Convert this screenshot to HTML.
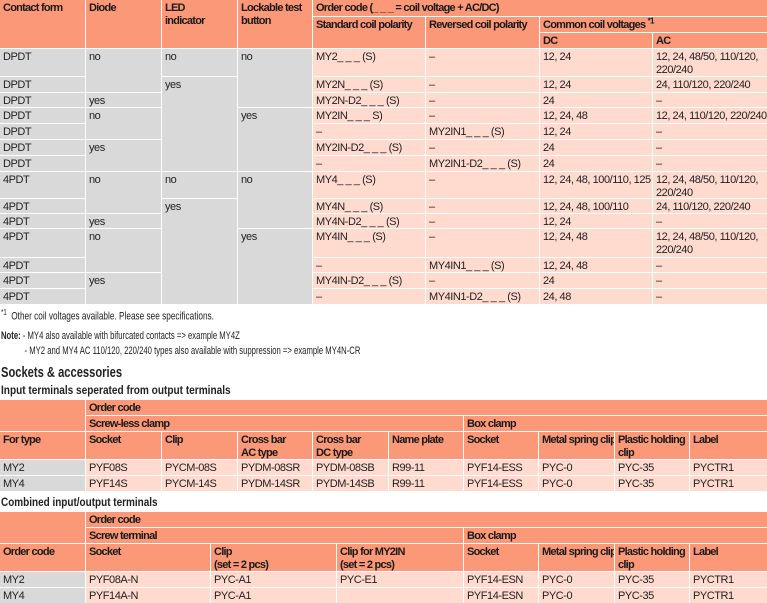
<!DOCTYPE html>
<html><head><meta charset="utf-8"><style>
body{margin:0;width:767px;height:603px;position:relative;background:#fff;font-family:"Liberation Sans Narrow","Liberation Sans",sans-serif;color:#222;overflow:hidden}
.c{position:absolute;box-sizing:border-box;padding:2px 3px;overflow:hidden;line-height:13px;font-size:11px;letter-spacing:-0.45px;white-space:nowrap}
.h{background:#FA9877;font-weight:bold;color:#1a1a1a;letter-spacing:-0.75px}
.g{background:#D9D9D9}
.p{background:#FEDBCE}
.t{position:absolute;white-space:nowrap;transform-origin:0 0}
</style></head><body>
<div class="c h" style="left:0;top:0;width:85px;height:48px">Contact form</div>
<div class="c h" style="left:86px;top:0;width:75px;height:48px">Diode</div>
<div class="c h" style="left:162px;top:0;width:75px;height:48px">LED<br>indicator</div>
<div class="c h" style="left:238px;top:0;width:74px;height:48px">Lockable test<br>button</div>
<div class="c h" style="left:313px;top:0;width:454px;height:16px">Order code (_ _ _ = coil voltage + AC/DC)</div>
<div class="c h" style="left:313px;top:17px;width:112px;height:31px">Standard coil polarity</div>
<div class="c h" style="left:426px;top:17px;width:113px;height:31px">Reversed coil polarity</div>
<div class="c h" style="left:540px;top:17px;width:227px;height:15px">Common coil voltages <sup style="font-size:8px;line-height:0">*1</sup></div>
<div class="c h" style="left:540px;top:33px;width:112px;height:15px">DC</div>
<div class="c h" style="left:653px;top:33px;width:114px;height:15px">AC</div>

<div class="c g" style="left:0;top:49px;width:85px;height:27px">DPDT</div>
<div class="c g" style="left:0;top:77px;width:85px;height:15px">DPDT</div>
<div class="c g" style="left:0;top:93px;width:85px;height:14px">DPDT</div>
<div class="c g" style="left:0;top:108px;width:85px;height:15px">DPDT</div>
<div class="c g" style="left:0;top:124px;width:85px;height:15px">DPDT</div>
<div class="c g" style="left:0;top:140px;width:85px;height:15px">DPDT</div>
<div class="c g" style="left:0;top:156px;width:85px;height:15px">DPDT</div>
<div class="c g" style="left:0;top:172px;width:85px;height:26px">4PDT</div>
<div class="c g" style="left:0;top:199px;width:85px;height:14px">4PDT</div>
<div class="c g" style="left:0;top:214px;width:85px;height:14px">4PDT</div>
<div class="c g" style="left:0;top:229px;width:85px;height:28px">4PDT</div>
<div class="c g" style="left:0;top:258px;width:85px;height:14px">4PDT</div>
<div class="c g" style="left:0;top:273px;width:85px;height:15px">4PDT</div>
<div class="c g" style="left:0;top:289px;width:85px;height:15px">4PDT</div>
<div class="c g" style="left:86px;top:49px;width:75px;height:43px">no</div>
<div class="c g" style="left:86px;top:93px;width:75px;height:14px">yes</div>
<div class="c g" style="left:86px;top:108px;width:75px;height:31px">no</div>
<div class="c g" style="left:86px;top:140px;width:75px;height:31px">yes</div>
<div class="c g" style="left:86px;top:172px;width:75px;height:41px">no</div>
<div class="c g" style="left:86px;top:214px;width:75px;height:14px">yes</div>
<div class="c g" style="left:86px;top:229px;width:75px;height:43px">no</div>
<div class="c g" style="left:86px;top:273px;width:75px;height:31px">yes</div>
<div class="c g" style="left:162px;top:49px;width:75px;height:27px">no</div>
<div class="c g" style="left:162px;top:77px;width:75px;height:94px">yes</div>
<div class="c g" style="left:162px;top:172px;width:75px;height:26px">no</div>
<div class="c g" style="left:162px;top:199px;width:75px;height:105px">yes</div>
<div class="c g" style="left:238px;top:49px;width:74px;height:58px">no</div>
<div class="c g" style="left:238px;top:108px;width:74px;height:63px">yes</div>
<div class="c g" style="left:238px;top:172px;width:74px;height:56px">no</div>
<div class="c g" style="left:238px;top:229px;width:74px;height:75px">yes</div>

<div class="c p" style="left:313px;top:49px;width:112px;height:27px">MY2_ _ _ (S)</div>
<div class="c p" style="left:313px;top:77px;width:112px;height:15px">MY2N_ _ _ (S)</div>
<div class="c p" style="left:313px;top:93px;width:112px;height:14px">MY2N-D2_ _ _ (S)</div>
<div class="c p" style="left:313px;top:108px;width:112px;height:15px">MY2IN_ _ _ S)</div>
<div class="c p" style="left:313px;top:124px;width:112px;height:15px">–</div>
<div class="c p" style="left:313px;top:140px;width:112px;height:15px">MY2IN-D2_ _ _ (S)</div>
<div class="c p" style="left:313px;top:156px;width:112px;height:15px">–</div>
<div class="c p" style="left:313px;top:172px;width:112px;height:26px">MY4_ _ _ (S)</div>
<div class="c p" style="left:313px;top:199px;width:112px;height:14px">MY4N_ _ _ (S)</div>
<div class="c p" style="left:313px;top:214px;width:112px;height:14px">MY4N-D2_ _ _ (S)</div>
<div class="c p" style="left:313px;top:229px;width:112px;height:28px">MY4IN_ _ _ (S)</div>
<div class="c p" style="left:313px;top:258px;width:112px;height:14px">–</div>
<div class="c p" style="left:313px;top:273px;width:112px;height:15px">MY4IN-D2_ _ _ (S)</div>
<div class="c p" style="left:313px;top:289px;width:112px;height:15px">–</div>
<div class="c p" style="left:426px;top:49px;width:113px;height:27px">–</div>
<div class="c p" style="left:426px;top:77px;width:113px;height:15px">–</div>
<div class="c p" style="left:426px;top:93px;width:113px;height:14px">–</div>
<div class="c p" style="left:426px;top:108px;width:113px;height:15px">–</div>
<div class="c p" style="left:426px;top:124px;width:113px;height:15px">MY2IN1_ _ _ (S)</div>
<div class="c p" style="left:426px;top:140px;width:113px;height:15px">–</div>
<div class="c p" style="left:426px;top:156px;width:113px;height:15px">MY2IN1-D2_ _ _ (S)</div>
<div class="c p" style="left:426px;top:172px;width:113px;height:26px">–</div>
<div class="c p" style="left:426px;top:199px;width:113px;height:14px">–</div>
<div class="c p" style="left:426px;top:214px;width:113px;height:14px">–</div>
<div class="c p" style="left:426px;top:229px;width:113px;height:28px">–</div>
<div class="c p" style="left:426px;top:258px;width:113px;height:14px">MY4IN1_ _ _ (S)</div>
<div class="c p" style="left:426px;top:273px;width:113px;height:15px">–</div>
<div class="c p" style="left:426px;top:289px;width:113px;height:15px">MY4IN1-D2_ _ _ (S)</div>
<div class="c p" style="left:540px;top:49px;width:112px;height:27px">12, 24</div>
<div class="c p" style="left:540px;top:77px;width:112px;height:15px">12, 24</div>
<div class="c p" style="left:540px;top:93px;width:112px;height:14px">24</div>
<div class="c p" style="left:540px;top:108px;width:112px;height:15px">12, 24, 48</div>
<div class="c p" style="left:540px;top:124px;width:112px;height:15px">12, 24</div>
<div class="c p" style="left:540px;top:140px;width:112px;height:15px">24</div>
<div class="c p" style="left:540px;top:156px;width:112px;height:15px">24</div>
<div class="c p" style="left:540px;top:172px;width:112px;height:26px">12, 24, 48, 100/110, 125</div>
<div class="c p" style="left:540px;top:199px;width:112px;height:14px">12, 24, 48, 100/110</div>
<div class="c p" style="left:540px;top:214px;width:112px;height:14px">12, 24</div>
<div class="c p" style="left:540px;top:229px;width:112px;height:28px">12, 24, 48</div>
<div class="c p" style="left:540px;top:258px;width:112px;height:14px">12, 24, 48</div>
<div class="c p" style="left:540px;top:273px;width:112px;height:15px">24</div>
<div class="c p" style="left:540px;top:289px;width:112px;height:15px">24, 48</div>
<div class="c p" style="left:653px;top:49px;width:114px;height:27px">12, 24, 48/50, 110/120,<br>220/240</div>
<div class="c p" style="left:653px;top:77px;width:114px;height:15px">24, 110/120, 220/240</div>
<div class="c p" style="left:653px;top:93px;width:114px;height:14px">–</div>
<div class="c p" style="left:653px;top:108px;width:114px;height:15px">12, 24, 110/120, 220/240</div>
<div class="c p" style="left:653px;top:124px;width:114px;height:15px">–</div>
<div class="c p" style="left:653px;top:140px;width:114px;height:15px">–</div>
<div class="c p" style="left:653px;top:156px;width:114px;height:15px">–</div>
<div class="c p" style="left:653px;top:172px;width:114px;height:26px">12, 24, 48/50, 110/120,<br>220/240</div>
<div class="c p" style="left:653px;top:199px;width:114px;height:14px">24, 110/120, 220/240</div>
<div class="c p" style="left:653px;top:214px;width:114px;height:14px">–</div>
<div class="c p" style="left:653px;top:229px;width:114px;height:28px">12, 24, 48/50, 110/120,<br>220/240</div>
<div class="c p" style="left:653px;top:258px;width:114px;height:14px">–</div>
<div class="c p" style="left:653px;top:273px;width:114px;height:15px">–</div>
<div class="c p" style="left:653px;top:289px;width:114px;height:15px">–</div>

<div class="t" style="left:1px;top:308px;font-size:11px;transform:scaleX(0.75)"><sup style="font-size:8px">*1</sup>&nbsp; Other coil voltages available. Please see specifications.</div>
<div class="t" style="left:1px;top:329px;font-size:11px;line-height:15px;transform:scaleX(0.7)"><b>Note:</b> - MY4 also available with bifurcated contacts =&gt; example MY4Z<br>&nbsp;&nbsp;&nbsp;&nbsp;&nbsp;&nbsp;&nbsp;&nbsp;&nbsp;&nbsp;&nbsp;- MY2 and MY4 AC 110/120, 220/240 types also available with suppression =&gt; example MY4N-CR</div>
<div class="t" style="left:1px;top:365px;font-size:14.5px;font-weight:bold;transform:scaleX(0.77)">Sockets &amp; accessories</div>
<div class="t" style="left:1px;top:383px;font-size:12px;font-weight:bold;transform:scaleX(0.84)">Input terminals seperated from output terminals</div>

<div class="c h" style="left:0;top:400px;width:85px;height:31px"></div>
<div class="c h" style="left:86px;top:400px;width:681px;height:15px">Order code</div>
<div class="c h" style="left:86px;top:416px;width:377px;height:15px">Screw-less clamp</div>
<div class="c h" style="left:464px;top:416px;width:303px;height:15px">Box clamp</div>
<div class="c h" style="left:0;top:432px;width:85px;height:27px">For type</div>
<div class="c h" style="left:86px;top:432px;width:75px;height:27px">Socket</div>
<div class="c h" style="left:162px;top:432px;width:75px;height:27px">Clip</div>
<div class="c h" style="left:238px;top:432px;width:74px;height:27px">Cross bar<br>AC type</div>
<div class="c h" style="left:313px;top:432px;width:75px;height:27px">Cross bar<br>DC type</div>
<div class="c h" style="left:389px;top:432px;width:74px;height:27px">Name plate</div>
<div class="c h" style="left:464px;top:432px;width:74px;height:27px">Socket</div>
<div class="c h" style="left:539px;top:432px;width:75px;height:27px">Metal spring clip</div>
<div class="c h" style="left:615px;top:432px;width:74px;height:27px">Plastic holding<br>clip</div>
<div class="c h" style="left:690px;top:432px;width:77px;height:27px">Label</div>

<div class="c g" style="left:0;top:460px;width:85px;height:15px">MY2</div>
<div class="c p" style="left:86px;top:460px;width:75px;height:15px">PYF08S</div>
<div class="c p" style="left:162px;top:460px;width:75px;height:15px">PYCM-08S</div>
<div class="c p" style="left:238px;top:460px;width:74px;height:15px">PYDM-08SR</div>
<div class="c p" style="left:313px;top:460px;width:75px;height:15px">PYDM-08SB</div>
<div class="c p" style="left:389px;top:460px;width:74px;height:15px">R99-11</div>
<div class="c p" style="left:464px;top:460px;width:74px;height:15px">PYF14-ESS</div>
<div class="c p" style="left:539px;top:460px;width:75px;height:15px">PYC-0</div>
<div class="c p" style="left:615px;top:460px;width:74px;height:15px">PYC-35</div>
<div class="c p" style="left:690px;top:460px;width:77px;height:15px">PYCTR1</div>

<div class="c g" style="left:0;top:476px;width:85px;height:15px">MY4</div>
<div class="c p" style="left:86px;top:476px;width:75px;height:15px">PYF14S</div>
<div class="c p" style="left:162px;top:476px;width:75px;height:15px">PYCM-14S</div>
<div class="c p" style="left:238px;top:476px;width:74px;height:15px">PYDM-14SR</div>
<div class="c p" style="left:313px;top:476px;width:75px;height:15px">PYDM-14SB</div>
<div class="c p" style="left:389px;top:476px;width:74px;height:15px">R99-11</div>
<div class="c p" style="left:464px;top:476px;width:74px;height:15px">PYF14-ESS</div>
<div class="c p" style="left:539px;top:476px;width:75px;height:15px">PYC-0</div>
<div class="c p" style="left:615px;top:476px;width:74px;height:15px">PYC-35</div>
<div class="c p" style="left:690px;top:476px;width:77px;height:15px">PYCTR1</div>

<div class="t" style="left:1px;top:495px;font-size:12px;font-weight:bold;transform:scaleX(0.83)">Combined input/output terminals</div>

<div class="c h" style="left:0;top:512px;width:85px;height:31px"></div>
<div class="c h" style="left:86px;top:512px;width:681px;height:15px">Order code</div>
<div class="c h" style="left:86px;top:528px;width:377px;height:15px">Screw terminal</div>
<div class="c h" style="left:464px;top:528px;width:303px;height:15px">Box clamp</div>
<div class="c h" style="left:0;top:544px;width:85px;height:27px">Order code</div>
<div class="c h" style="left:86px;top:544px;width:124px;height:27px">Socket</div>
<div class="c h" style="left:211px;top:544px;width:125px;height:27px">Clip<br>(set = 2 pcs)</div>
<div class="c h" style="left:337px;top:544px;width:126px;height:27px">Clip for MY2IN<br>(set = 2 pcs)</div>
<div class="c h" style="left:464px;top:544px;width:74px;height:27px">Socket</div>
<div class="c h" style="left:539px;top:544px;width:75px;height:27px">Metal spring clip</div>
<div class="c h" style="left:615px;top:544px;width:74px;height:27px">Plastic holding<br>clip</div>
<div class="c h" style="left:690px;top:544px;width:77px;height:27px">Label</div>

<div class="c g" style="left:0;top:572px;width:85px;height:15px">MY2</div>
<div class="c p" style="left:86px;top:572px;width:124px;height:15px">PYF08A-N</div>
<div class="c p" style="left:211px;top:572px;width:125px;height:15px">PYC-A1</div>
<div class="c p" style="left:337px;top:572px;width:126px;height:15px">PYC-E1</div>
<div class="c p" style="left:464px;top:572px;width:74px;height:15px">PYF14-ESN</div>
<div class="c p" style="left:539px;top:572px;width:75px;height:15px">PYC-0</div>
<div class="c p" style="left:615px;top:572px;width:74px;height:15px">PYC-35</div>
<div class="c p" style="left:690px;top:572px;width:77px;height:15px">PYCTR1</div>

<div class="c g" style="left:0;top:588px;width:85px;height:15px">MY4</div>
<div class="c p" style="left:86px;top:588px;width:124px;height:15px">PYF14A-N</div>
<div class="c p" style="left:211px;top:588px;width:125px;height:15px">PYC-A1</div>
<div class="c p" style="left:337px;top:588px;width:126px;height:15px"></div>
<div class="c p" style="left:464px;top:588px;width:74px;height:15px">PYF14-ESN</div>
<div class="c p" style="left:539px;top:588px;width:75px;height:15px">PYC-0</div>
<div class="c p" style="left:615px;top:588px;width:74px;height:15px">PYC-35</div>
<div class="c p" style="left:690px;top:588px;width:77px;height:15px">PYCTR1</div>
</body></html>
